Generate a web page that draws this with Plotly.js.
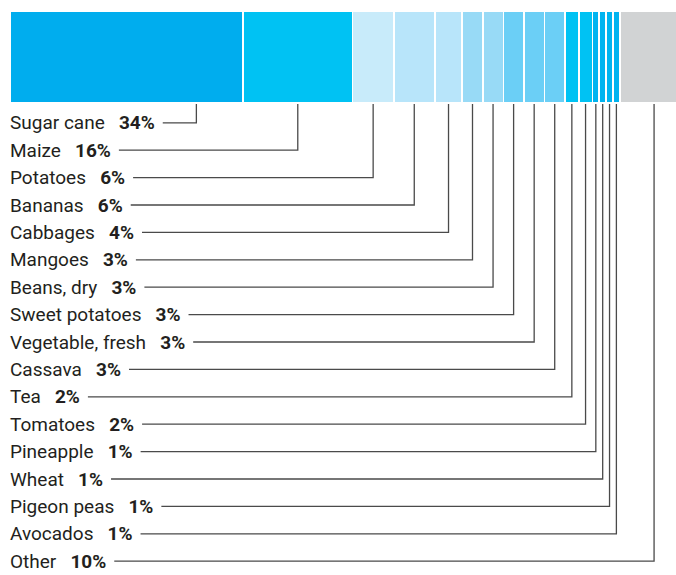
<!DOCTYPE html>
<html>
<head>
<meta charset="utf-8">
<script src="https://cdn.plot.ly/plotly-3.0.1.min.js"></script>
<style>html,body{margin:0;padding:0;background:#fff;}#chart{width:676px;height:575px;}</style>
</head>
<body>
<div id="chart"></div>
<script>
// ---- data ----
var categories = ['Sugar cane','Maize','Potatoes','Bananas','Cabbages','Mangoes','Beans, dry','Sweet potatoes','Vegetable, fresh','Cassava','Tea','Tomatoes','Pineapple','Wheat','Pigeon peas','Avocados','Other'];
var shares = [34,16,6,6,4,3,3,3,3,3,2,2,1,1,1,1,10];
var valueLabels = ['34%','16%','6%','6%','4%','3%','3%','3%','3%','3%','2%','2%','1%','1%','1%','1%','10%'];
var colors = ['#00ADEE','#00C2F3','#C8EBFA','#B8E5FA','#B8E5FA','#98DAF6','#98DAF6','#6BCFF6','#6BCFF6','#6BCFF6','#00C2F3','#00C2F3','#00B4F0','#00B4F0','#00B4F0','#00B4F0','#D1D3D4'];

// ---- layout constants ----
var W = 676, H = 575;
var plotLeft = 10, plotWidth = W - plotLeft;
var xMax = 97.2;
var pxPerUnit = plotWidth / xMax;
var barTop = 11, barBottom = 103;
var rowStart = 122.8, rowStep = 27.4;
var fontFam = 'Roboto, "DejaVu Sans", sans-serif';
var fontSize = 19;
var textColor = '#231F20';
var lineColor = '#4a4a4a';

function py(p){ return (H - p) / H; }

var ctx = document.createElement('canvas').getContext('2d');
function textW(t, bold){
  ctx.font = (bold ? 'bold ' : '') + fontSize + 'px Roboto';
  return ctx.measureText(t).width;
}

var traces = categories.map(function(c, i){
  return {
    type: 'bar', orientation: 'h', name: c,
    y: ['share'], x: [shares[i]],
    marker: {color: colors[i], line: {color: '#ffffff', width: 1.6}},
    hoverinfo: 'name+x', showlegend: false, width: 1
  };
});

var annotations = [], shapes = [];
var cum = 0;
var gapName = '\u00a0\u00a0 ';
categories.forEach(function(c, i){
  var start = cum; cum += shares[i];
  var centre = start + shares[i] / 2;
  if (i === 0) centre = start + shares[i] * 0.8;
  var ry = rowStart + rowStep * i;
  annotations.push({
    xref: 'paper', yref: 'paper', x: 0, y: py(ry),
    xanchor: 'left', yanchor: 'middle', showarrow: false, xshift: -1, borderpad: 0,
    text: c + gapName + '<b>' + valueLabels[i] + '</b>',
    font: {family: fontFam, size: fontSize, color: textColor}
  });
  var tEnd = plotLeft + textW(c + gapName, false) + textW(valueLabels[i], true) + 8;
  var xStart = (tEnd - plotLeft) / pxPerUnit;
  shapes.push({
    type: 'path', xref: 'x', yref: 'paper',
    path: 'M ' + xStart + ',' + py(ry) + ' L ' + centre + ',' + py(ry) + ' L ' + centre + ',' + py(barBottom + 1),
    line: {color: lineColor, width: 1.3}
  });
});

var layout = {
  width: W, height: H,
  margin: {l: plotLeft, r: 0, t: 0, b: 0, pad: 0},
  paper_bgcolor: '#ffffff', plot_bgcolor: '#ffffff',
  barmode: 'stack', bargap: 0,
  xaxis: {range: [0, xMax], visible: false, fixedrange: true},
  yaxis: {domain: [py(barBottom), py(barTop)], range: [-0.5, 0.5], visible: false, fixedrange: true},
  annotations: annotations, shapes: shapes,
  font: {family: fontFam}
};

Plotly.newPlot('chart', traces, layout, {displayModeBar: false, staticPlot: true});
</script>
</body>
</html>
